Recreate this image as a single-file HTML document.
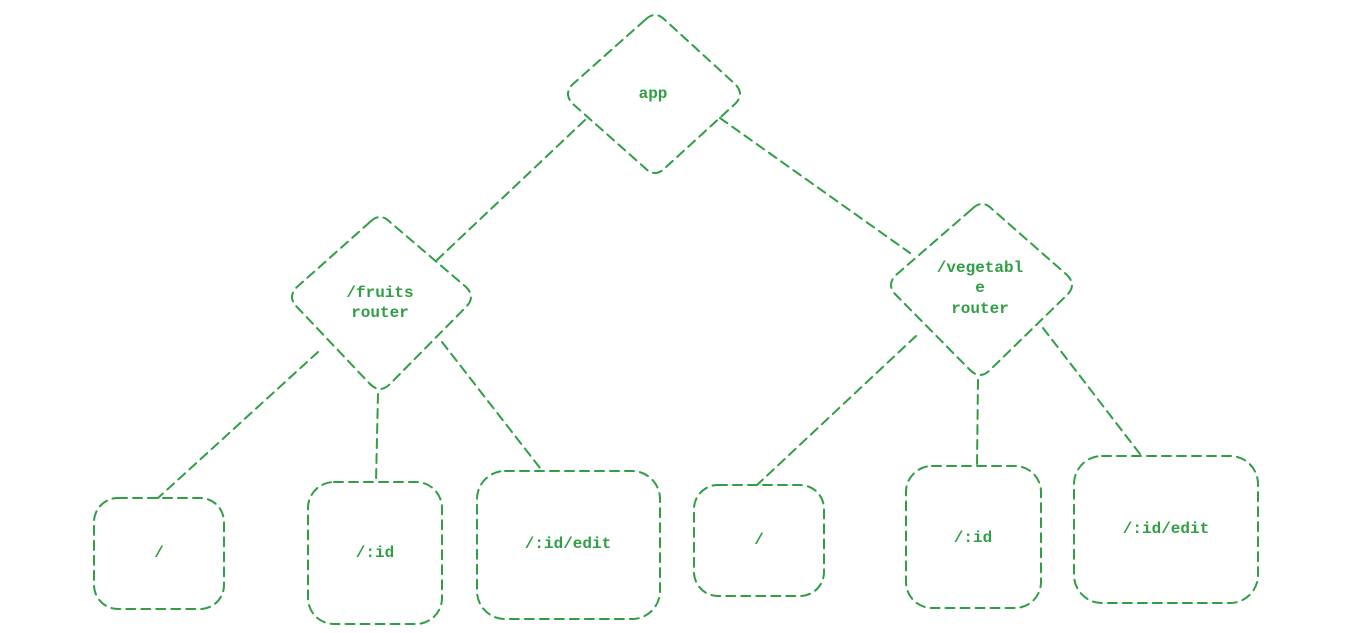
<!DOCTYPE html>
<html><head><meta charset="utf-8"><style>
html,body{margin:0;padding:0;background:#fff;}
svg{display:block;}
text{font-family:"Liberation Mono",monospace;font-size:16px;fill:#2f9e44;text-anchor:middle;font-weight:bold;}
</style></head><body>
<svg width="1345" height="633" viewBox="0 0 1345 633" xmlns="http://www.w3.org/2000/svg">
<g fill="none" stroke="#2f9e44" stroke-width="2" stroke-dasharray="9 6" stroke-linecap="round" stroke-linejoin="round">
<path d="M645,20 Q655,10 665,20 L735,84 Q745,94 735,104 L665,168 Q655,178 645,168 L573,104 Q563,94 573,84 Z"/>
<path d="M370,222 Q380,212 390,222 L466,287 Q476,297 466,307 L390,384 Q380,394 370,384 L297,307 Q287,297 297,287 Z"/>
<path d="M972,209 Q982,199 992,209 L1067,275 Q1077,285 1067,295 L990,370 Q980,380 970,370 L896,295 Q886,285 896,275 Z"/>
<line x1="585" y1="120" x2="437" y2="260"/>
<line x1="720" y1="118" x2="910" y2="253"/>
<line x1="318" y1="352" x2="158" y2="498"/>
<line x1="378" y1="394" x2="376" y2="482"/>
<line x1="442" y1="342" x2="540" y2="468"/>
<line x1="916" y1="336" x2="757" y2="485"/>
<line x1="978" y1="380" x2="977" y2="466"/>
<line x1="1043" y1="328" x2="1140" y2="454"/>
<rect x="94" y="498" width="130" height="111" rx="24"/>
<rect x="308" y="482" width="134" height="142" rx="26"/>
<rect x="477" y="471" width="183" height="148" rx="28"/>
<rect x="694" y="485" width="130" height="111" rx="24"/>
<rect x="906" y="466" width="135" height="142" rx="26"/>
<rect x="1074" y="456" width="184" height="147" rx="28"/>
</g>
<text x="653" y="98">app</text>
<text x="380" y="297">/fruits</text>
<text x="380" y="317">router</text>
<text x="980" y="272">/vegetabl</text>
<text x="980" y="292">e</text>
<text x="980" y="313">router</text>
<text x="159" y="557">/</text>
<text x="375" y="557">/:id</text>
<text x="568" y="548">/:id/edit</text>
<text x="759" y="544">/</text>
<text x="973" y="542">/:id</text>
<text x="1166" y="533">/:id/edit</text>
</svg>
</body></html>
